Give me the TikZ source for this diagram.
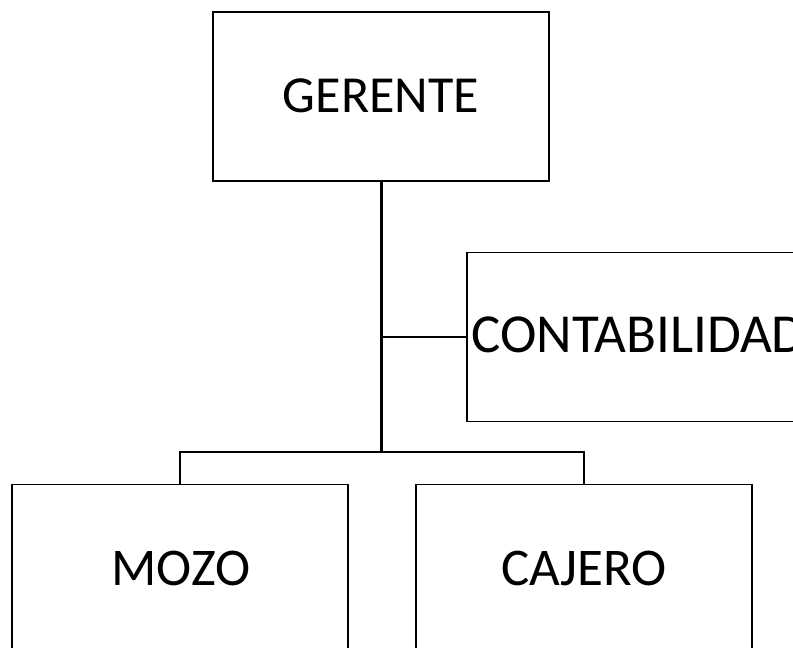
\documentclass[tikz,border=0pt]{standalone}
\usepackage{fontspec}
\setmainfont{Carlito}
\begin{document}
\begin{tikzpicture}[x=1pt,y=-1pt,
  box/.style={draw=black, line width=1.8pt, fill=white, inner sep=0pt, minimum width=336pt, minimum height=169pt},
  lbl/.style={inner sep=0pt, font=\fontsize{53}{60}\selectfont},
  conn/.style={draw=black, line width=1.8pt},
  trunk/.style={draw=black, line width=3pt}]
\useasboundingbox (0,0) rectangle (793,648);
\clip (0,0) rectangle (793,648);
\node[box] (ger) at (381,96.5) {};
\node[lbl, font=\fontsize{52}{60}\selectfont] (gert) at (381,96) {GERENTE};
\node[box] (cont) at (635,337) {};
\node[lbl, anchor=west, font=\fontsize{55}{60}\selectfont] (contt) at (471,335) {CONTABILIDAD};
\node[box] (mozo) at (180,569) {};
\node[lbl] (mozot) at (181,568) {MOZO};
\node[box] (caj) at (584,569) {};
\node[lbl] (cajt) at (584,568) {CAJERO};
\coordinate (bar) at (381,452);
\coordinate (tap) at (381,337);
\draw[conn] (tap) -- (cont.west);
\draw[conn] (mozo.north) -- (mozo.north |- bar) -- (caj.north |- bar) -- (caj.north);
\draw[trunk] (ger.south) -- (bar);
\end{tikzpicture}
\end{document}
